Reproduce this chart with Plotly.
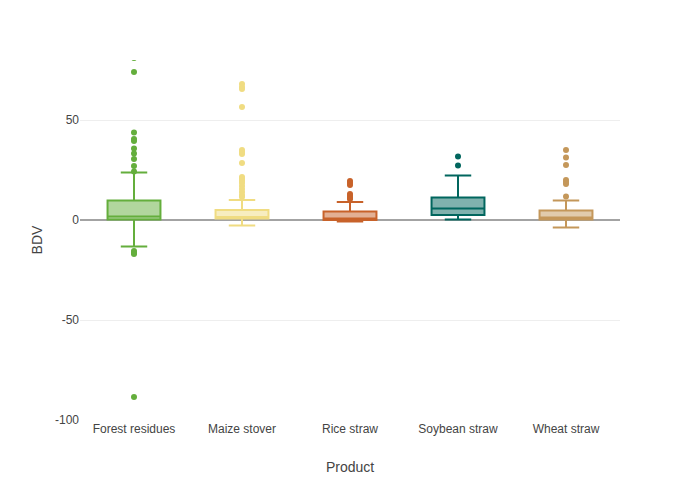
import plotly.graph_objects as go

products = ["Forest residues", "Maize stover", "Rice straw", "Soybean straw", "Wheat straw"]
colors = ["#64ae3c", "#f0dc82", "#c8622a", "#01665e", "#c4975a"]

q1 = [0.3, 0.7, 0.0, 2.5, 0.3]
median = [1.7, 1.5, 0.8, 5.8, 1.2]
q3 = [9.8, 5.0, 4.2, 11.2, 4.7]
lowerfence = [-13.2, -2.7, -0.8, 0.2, -3.7]
upperfence = [23.7, 10.0, 9.0, 22.2, 9.8]

outliers = {
    "Forest residues": [81, 74, 43.7, 40.5, 39.5, 35.7, 33.3, 30.5, 27, 24.2,
                        -15.5, -16.5, -17, -88.5],
    "Maize stover": [68, 66.5, 65.5, 56.5, 35, 34, 33, 28.5, 21.5, 20.5, 19.5,
                     18.5, 17, 15.5, 14, 12.5, 11.5],
    "Rice straw": [19.5, 18.5, 17.5, 13, 12, 11, 10.5],
    "Soybean straw": [31.7, 27.2],
    "Wheat straw": [35, 31.3, 27.5, 20, 19, 18, 11.7],
}

y_tickvals = [-100, -50, 0, 50]
y_ticktext = ["-100", "-50", "0", "50"]

fig = go.Figure()
for i, p in enumerate(products):
    fig.add_trace(go.Box(
        x=[p], q1=[q1[i]], median=[median[i]], q3=[q3[i]],
        lowerfence=[lowerfence[i]], upperfence=[upperfence[i]],
        name=p, marker_color=colors[i], line=dict(color=colors[i], width=2),
        boxpoints=False, whiskerwidth=0.5, showlegend=False,
    ))
for i, p in enumerate(products):
    ys = outliers[p]
    fig.add_trace(go.Scatter(
        x=[p] * len(ys), y=ys, mode="markers",
        marker=dict(color=colors[i], size=6), showlegend=False,
        hoverinfo="y",
    ))

# page body adds an 8px offset; compensate so the plot area sits at 80..620 x 60..420
fig.update_layout(
    width=700, height=500,
    template="none",
    plot_bgcolor="white", paper_bgcolor="white",
    margin=dict(l=72, r=88, t=52, b=88),
    font=dict(family="Arial, Liberation Sans, sans-serif", size=12, color="#444"),
    xaxis=dict(title=dict(text="Product", font=dict(size=14)), showgrid=False,
               showline=False, ticks="", categoryorder="array", categoryarray=products),
    yaxis=dict(title=dict(text="BDV", font=dict(size=14)), range=[-100, 80],
               tickvals=y_tickvals, ticktext=y_ticktext, showgrid=True,
               gridcolor="#eeeeee", gridwidth=1, zeroline=True,
               zerolinecolor="#a3a3a3", zerolinewidth=2,
               showline=False, ticks=""),
)

fig.write_html("out.html")
